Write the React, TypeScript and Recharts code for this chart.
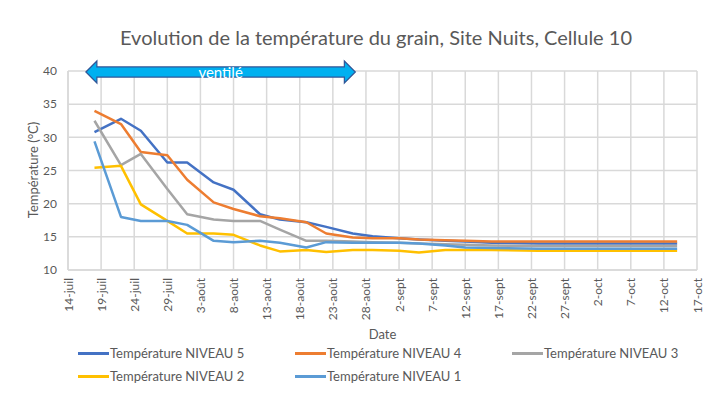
import React from 'react';
import { LineChart, Line, XAxis, YAxis, CartesianGrid, ReferenceArea } from 'recharts';

const FONT = 'Lato, "Open Sans", sans-serif';
const TEXT = '#595959';

// days since 14-juil
const days = [4, 8, 11, 15, 18, 22, 25, 29, 32, 36, 39, 43, 46, 50, 53, 57, 60, 64, 71, 78, 85, 92];
const niveau5 = [30.8, 32.8, 31.0, 26.2, 26.2, 23.2, 22.1, 18.4, 17.6, 17.2, 16.5, 15.5, 15.1, 14.8, 14.6, 14.4, 14.3, 14.1, 14.0, 14.0, 14.0, 14.0];
const niveau4 = [34.0, 32.0, 27.8, 27.3, 23.6, 20.2, 19.2, 18.1, 17.8, 17.2, 15.5, 14.9, 14.8, 14.8, 14.6, 14.5, 14.4, 14.3, 14.3, 14.3, 14.3, 14.3];
const niveau3 = [32.5, 25.8, 27.5, 22.2, 18.4, 17.6, 17.4, 17.4, 16.1, 14.4, 14.4, 14.3, 14.2, 14.1, 14.0, 13.9, 13.8, 13.7, 13.6, 13.6, 13.6, 13.6];
const niveau2 = [25.4, 25.7, 19.9, 17.4, 15.5, 15.5, 15.3, 13.7, 12.8, 13.0, 12.7, 13.0, 13.0, 12.9, 12.65, 13.0, 13.0, 13.0, 12.9, 12.9, 12.9, 12.9];
const niveau1 = [29.4, 18.0, 17.4, 17.4, 16.8, 14.4, 14.2, 14.4, 14.1, 13.4, 14.2, 14.1, 14.1, 14.1, 14.0, 13.7, 13.4, 13.3, 13.2, 13.2, 13.2, 13.2];

const seriesKeys = ['n5', 'n4', 'n3', 'n2', 'n1'];
const seriesValues = [niveau5, niveau4, niveau3, niveau2, niveau1];
const seriesNames = ['Température NIVEAU 5', 'Température NIVEAU 4', 'Température NIVEAU 3', 'Température NIVEAU 2', 'Température NIVEAU 1'];
const seriesColors = ['#4472C4', '#ED7D31', '#A5A5A5', '#FFC000', '#5B9BD5'];

const xTicks = [0, 5, 10, 15, 20, 25, 30, 35, 40, 45, 50, 55, 60, 65, 70, 75, 80, 85, 90, 95];
const xTickLabels = ['14-juil', '19-juil', '24-juil', '29-juil', '3-août', '8-août', '13-août', '18-août', '23-août', '28-août', '2-sept', '7-sept', '12-sept', '17-sept', '22-sept', '27-sept', '2-oct', '7-oct', '12-oct', '17-oct'];
const yTicks = [10, 15, 20, 25, 30, 35, 40];

const ventStart = 2.7;
const ventEnd = 43.4;
const ventLow = 38.2;
const ventHigh = 41.5;
const ventLabel = 'ventilé';

const title = 'Evolution de la température du grain, Site Nuits, Cellule 10';

const data = days.map((d, i) => {
  const row: any = { day: d };
  seriesKeys.forEach((k, j) => { row[k] = seriesValues[j][i]; });
  return row;
});

const Arrow = (p: any) => {
  const { x, y, width, height } = p;
  const head = 11;
  const inset = height * 0.27;
  const top = y + inset;
  const bot = y + height - inset;
  const mid = y + height / 2;
  const pts = [
    [x, mid], [x + head, y], [x + head, top], [x + width - head, top], [x + width - head, y],
    [x + width, mid], [x + width - head, y + height], [x + width - head, bot], [x + head, bot], [x + head, y + height],
  ].map((q) => q.join(',')).join(' ');
  return (
    <g>
      <polygon points={pts} fill="#00B0F0" stroke="#2F5597" strokeWidth={1.2} strokeLinejoin="miter" />
      <text x={x + width / 2} y={mid} textAnchor="middle" dominantBaseline="central" fill="#ffffff" fontSize={15} fontFamily={FONT}>{ventLabel}</text>
    </g>
  );
};

const XTick = (p: any) => {
  const { x, y, payload } = p;
  const idx = xTicks.indexOf(payload.value);
  return (
    <text x={x} y={y} transform={`rotate(-90, ${x}, ${y})`} textAnchor="end" dominantBaseline="central" fill={TEXT} fontSize={12} fontFamily={FONT}>
      {idx >= 0 ? xTickLabels[idx] : ''}
    </text>
  );
};

export default function App() {
  return (
    <div style={{ position: 'absolute', left: 0, top: 0, width: 715, height: 397, background: '#fff', fontFamily: FONT }}>
      <div style={{ position: 'absolute', left: 76, top: 23, width: 600, textAlign: 'center', fontSize: 20, color: TEXT, lineHeight: '28px' }}>{title}</div>
      <div style={{ position: 'absolute', left: 33, top: 170, transform: 'translate(-50%, -50%) rotate(-90deg)', whiteSpace: 'nowrap', fontSize: 13, color: TEXT }}>Température (°C)</div>
      <LineChart width={715} height={397} data={data} margin={{ top: 71, right: 18, bottom: 0, left: 0 }}>
        <CartesianGrid stroke="#D9D9D9" strokeWidth={1.5} />
        <XAxis
          dataKey="day"
          type="number"
          domain={[0, 95]}
          ticks={xTicks}
          interval={0}
          height={127}
          tick={<XTick />}
          tickLine={false}
          axisLine={{ stroke: '#D9D9D9', strokeWidth: 1.5 }}
          label={{ value: 'Date', position: 'insideTop', offset: 60, fill: TEXT, fontSize: 13, fontFamily: FONT }}
        />
        <YAxis
          type="number"
          domain={[10, 40]}
          ticks={yTicks}
          width={68}
          tickLine={false}
          tickMargin={5}
          axisLine={{ stroke: '#D9D9D9', strokeWidth: 1.5 }}
          tick={{ fill: TEXT, fontSize: 12, fontFamily: FONT }}
        />
        {seriesKeys.map((k, j) => (
          <Line key={k} dataKey={k} type="linear" stroke={seriesColors[j]} strokeWidth={2.5} dot={false} isAnimationActive={false} strokeLinejoin="round" />
        ))}
        <ReferenceArea x1={ventStart} x2={ventEnd} y1={ventLow} y2={ventHigh} ifOverflow="visible" shape={(p: any) => <Arrow {...p} />} />
      </LineChart>
      {seriesNames.map((name, j) => {
        const col = j < 3 ? j : j - 3;
        const row = j < 3 ? 0 : 1;
        const left = [78, 295, 512][col];
        const top = [345, 368][row];
        return (
          <div key={name} style={{ position: 'absolute', left, top, height: 16, display: 'flex', alignItems: 'center', fontSize: 13, color: TEXT, whiteSpace: 'nowrap' }}>
            <span style={{ display: 'inline-block', width: 31, height: 3, background: seriesColors[j], marginRight: 1 }} />
            <span>{name}</span>
          </div>
        );
      })}
    </div>
  );
}
